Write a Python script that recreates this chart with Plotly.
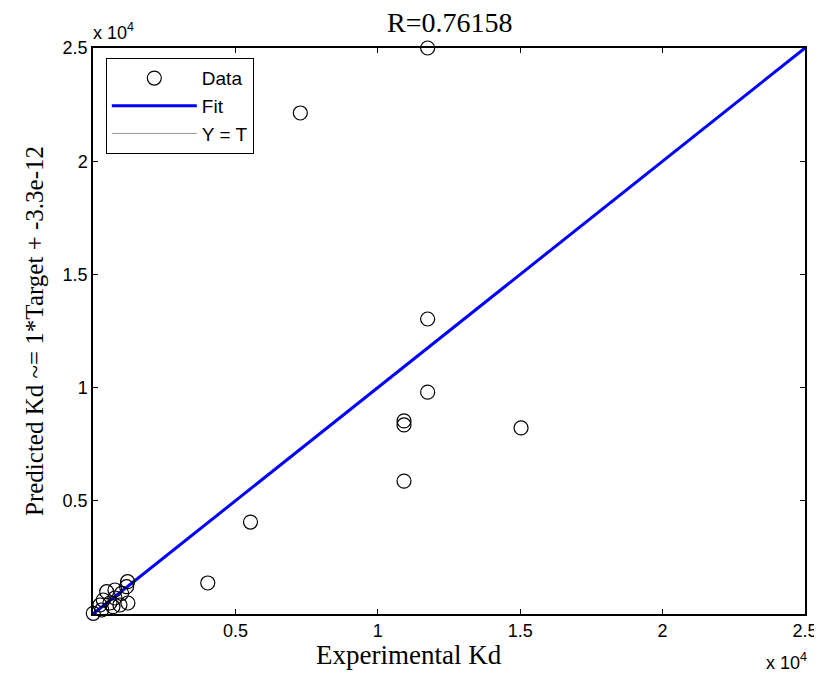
import plotly.graph_objects as go

# Data (Experimental Kd vs Predicted Kd)
experimental = [11750, 7280, 11750, 11750, 10920, 10920, 15030, 10920, 5530, 4030,
                10, 1215, 1180, 770, 480, 1005, 360, 770, 1225, 945, 700, 245, 305, 595]
predicted = [25000, 22130, 13030, 9800, 8530, 8350, 8220, 5870, 4060, 1370,
             30, 1427, 1206, 1060, 985, 914, 618, 707, 486, 398, 322, 398, 177, 486]
line_x = [0, 25000]
fit_slope = 1.0
fit_intercept = -3.3e-12
tick_vals = [5000, 10000, 15000, 20000, 25000]
tick_text = ["0.5", "1", "1.5", "2", "2.5"]

fit_y = [fit_slope * v + fit_intercept for v in line_x]

SERIF = "Liberation Serif, Times New Roman, serif"
SANS = "Liberation Sans, Arial, sans-serif"

fig = go.Figure()
fig.add_trace(go.Scatter(x=line_x, y=line_x, mode="lines", name="Y = T", legendrank=3,
                         line=dict(color="#999999", width=1)))
fig.add_trace(go.Scatter(x=line_x, y=fit_y, mode="lines", name="Fit", legendrank=2,
                         line=dict(color="#0000ff", width=3)))
fig.add_trace(go.Scatter(x=experimental, y=predicted, mode="markers", name="Data", legendrank=1,
                         marker=dict(symbol="circle-open", size=14, color="black",
                                     line=dict(width=1.2, color="black")),
                         cliponaxis=False))

axis_common = dict(range=[0, 25000], tickvals=tick_vals, ticktext=tick_text,
                   ticks="inside", ticklen=5, tickcolor="black", mirror="ticks",
                   showline=True, linecolor="black", linewidth=1.5, showgrid=False,
                   zeroline=False, tickfont=dict(family=SANS, size=18, color="black"))

# The page body adds an 8px margin, so margins are offset to keep the plot box in place.
fig.update_layout(
    width=822, height=679,
    margin=dict(l=85, r=23, t=40, b=73),
    paper_bgcolor="white", plot_bgcolor="white",
    showlegend=True,
    legend=dict(x=0.018, y=0.982, xanchor="left", yanchor="top",
                bordercolor="black", borderwidth=1, bgcolor="white",
                font=dict(family=SANS, size=19, color="black"),
                itemwidth=85, tracegroupgap=0),
    xaxis=dict(**axis_common, title=dict(text="")),
    yaxis=dict(**axis_common,
               title=dict(text="Predicted Kd ~= 1*Target + -3.3e-12", standoff=12,
                          font=dict(family=SERIF, size=25, color="black"))),
    annotations=[
        dict(text="R=0.76158", x=0.5, y=1.0, xref="paper", yref="paper", xanchor="center",
             yanchor="bottom", yshift=8, showarrow=False,
             font=dict(family=SERIF, size=28, color="black")),
        dict(text="Experimental Kd", x=0.444, y=0.0, xref="paper", yref="paper", xanchor="center",
             yanchor="top", yshift=-24, showarrow=False,
             font=dict(family=SERIF, size=27, color="black")),
        dict(text="x 10<sup>4</sup>", x=0.0, y=1.0, xref="paper", yref="paper", xanchor="left",
             yanchor="bottom", xshift=-2, yshift=3, showarrow=False,
             font=dict(family=SANS, size=18, color="black")),
        dict(text="x 10<sup>4</sup>", x=1.0, y=0.0, xref="paper", yref="paper", xanchor="right",
             yanchor="top", xshift=4, yshift=-34, showarrow=False,
             font=dict(family=SANS, size=18, color="black")),
    ],
)

fig.write_html("out.html")
